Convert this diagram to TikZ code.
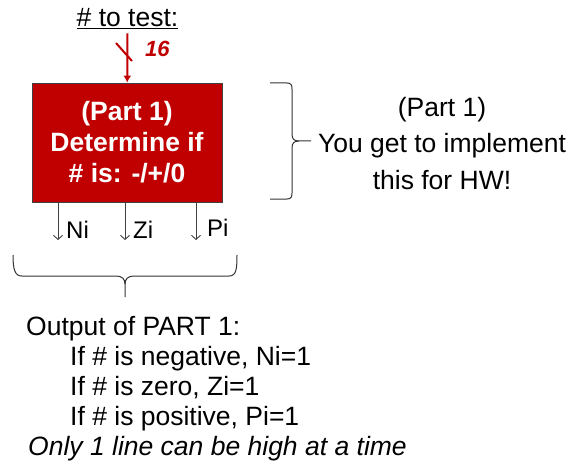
\documentclass[tikz,border=0pt]{standalone}
\usepackage{fontspec}
\setmainfont{Liberation Sans}
\usetikzlibrary{arrows.meta}
\definecolor{partred}{HTML}{C00000}
\definecolor{wiregray}{HTML}{404040}

\begin{document}
\begin{tikzpicture}
     [
     x=1pt, y=-1pt,
     every node/.style={font=\fontsize{26.5}{30.5}\selectfont, inner sep=0pt},
     partbox/.style={draw=wiregray, line width=0.8pt, fill=partred, text=white,
       font=\bfseries\fontsize{26.5}{31}\selectfont, align=center,
       minimum width=190pt, minimum height=119pt},
     buswire/.style={draw=partred, line width=2pt},
     outwire/.style={draw=wiregray, line width=0.9pt, -{Straight Barb[length=4pt,width=9pt]}},
     bracket/.style={draw=black!80, line width=1pt},
     sigtext/.style={font=\fontsize{24}{24}\selectfont, anchor=base west}
     ]
     \useasboundingbox (0,0) rectangle (573,468);

     % input and the block
     \node[anchor=base] (numin) at (127.5,27) {\underline{\# to test:}};
     \node[partbox] (detect) at (127,142.5) {(Part 1)\\Determine if\\\# is: -/+/0};
     \draw[buswire, -{Latex[length=7pt,width=8pt]}, shorten <=4pt] (numin) -- (detect);
     \draw[buswire] (116,43) -- (132,61);
     \node[anchor=base west, text=partred, font=\bfseries\itshape\fontsize{22}{22}\selectfont] (width) at (145,57) {16};

     % outputs
     \coordinate (nend) at (58,240);
     \coordinate (zend) at (125,240);
     \coordinate (pend) at (196,240);
     \draw[outwire] (detect.south -| nend) -- (nend);
     \draw[outwire] (detect.south -| zend) -- (zend);
     \draw[outwire] (detect.south -| pend) -- (pend);
     \node[sigtext] (nlab) at (66,238) {Ni};
     \node[sigtext] (zlab) at (133,238) {Zi};
     \node[sigtext] (plab) at (207,236) {Pi};

     % braces
     \draw[bracket] (270,83) -- (287,83) .. controls (291,83) and (292,85) .. (292,89)
       -- (292,134) .. controls (292,139) and (294,141) .. (299,141) -- (311,141);
     \draw[bracket] (299,141) .. controls (294,141) and (292,143) .. (292,148)
       -- (292,193) .. controls (292,197) and (291,199) .. (287,199) -- (270,199);
     \draw[bracket] (13,255) .. controls (13,270) and (15,276) .. (22,276) -- (116,276)
       .. controls (122,276) and (125,279) .. (125,284) -- (125,297);
     \draw[bracket] (125,284) .. controls (125,279) and (128,276) .. (134,276) -- (229,276)
       .. controls (236,276) and (237,270) .. (237,255);

     % notes
     \node[anchor=north, align=center, font=\fontsize{26.5}{36.5}\selectfont] (hwnote) at (442,97)
       {(Part 1)\\You get to implement\\this for HW!};
     \node[anchor=base west] (outhead) at (26,335) {Output of PART 1:};
     \node[anchor=base west] (outneg) at (70,365) {If \# is negative, Ni=1};
     \node[anchor=base west] (outzero) at (70,395) {If \# is zero, Zi=1};
     \node[anchor=base west] (outpos) at (70,425) {If \# is positive, Pi=1};
     \node[anchor=base west, font=\itshape\fontsize{26.5}{30.5}\selectfont] (outnote) at (28,455)
       {Only 1 line can be high at a time};
\end{tikzpicture}
\end{document}
